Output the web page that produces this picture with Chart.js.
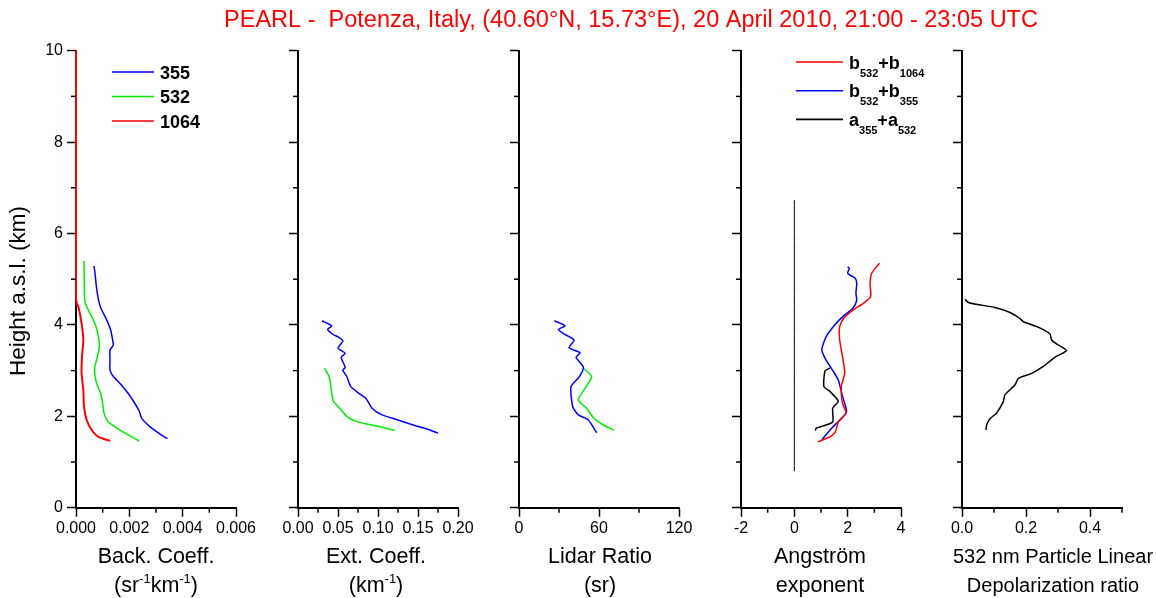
<!DOCTYPE html>
<html>
<head>
<meta charset="utf-8">
<title>PEARL - Potenza lidar profiles</title>
<script src="https://cdn.jsdelivr.net/npm/chart.js@4.4.1/dist/chart.umd.min.js"></script>
<style>
  html, body { margin: 0; padding: 0; background: #fff; }
  #wrap { position: relative; width: 1156px; height: 598px; overflow: hidden; }
  #wrap canvas { position: absolute; left: 0; top: 0; }
</style>
</head>
<body>
<div id="wrap">
  <canvas id="p1" width="1156" height="598"></canvas>
  <canvas id="p2" width="1156" height="598"></canvas>
  <canvas id="p3" width="1156" height="598"></canvas>
  <canvas id="p4" width="1156" height="598"></canvas>
  <canvas id="p5" width="1156" height="598"></canvas>
</div>
<script>
// ---- data (height in km a.s.l.) ----
const HEIGHT_TICK_LABELS = ["0", "2", "4", "6", "8", "10"];

// backscatter coefficient (sr-1 km-1)
const BSC_TICK_LABELS = ["0.000", "0.002", "0.004", "0.006"];
const bsc355H = [5.29, 5.13, 4.91, 4.69, 4.47, 4.33, 4.11, 3.89, 3.67, 3.56, 3.45, 3.23, 3.01, 2.87, 2.72, 2.50, 2.28, 2.10, 1.96, 1.77, 1.59, 1.51];
const bsc355 = [0.000675, 0.000713, 0.00075, 0.0008, 0.000875, 0.00096, 0.00115, 0.0013, 0.001375, 0.0014, 0.001275, 0.001275, 0.001275, 0.0014, 0.00165, 0.00196, 0.00221, 0.00238, 0.00246, 0.00278, 0.00321, 0.00343];
const bsc532H = [5.40, 4.55, 4.40, 4.18, 3.96, 3.74, 3.52, 3.30, 3.09, 2.94, 2.72, 2.50, 2.28, 2.07, 1.88, 1.70, 1.55, 1.46];
const bsc532 = [0.0003, 0.000325, 0.0004, 0.00059, 0.00075, 0.00084, 0.000875, 0.0008, 0.00071, 0.0007, 0.000775, 0.000925, 0.001, 0.00105, 0.00121, 0.00165, 0.00209, 0.00236];
const bsc1064H = [10.0, 4.60, 4.47, 4.40, 4.03, 3.67, 3.30, 2.94, 2.58, 2.21, 1.92, 1.70, 1.55, 1.46];
const bsc1064 = [0, 0, 0.00003, 0.00009, 0.00021, 0.000275, 0.000225, 0.00021, 0.000275, 0.0003, 0.0004, 0.00059, 0.00084, 0.00128];

// extinction coefficient (km-1)
const EXT_TICK_LABELS = ["0.00", "0.05", "0.10", "0.15", "0.20"];
const ext355H = [4.09, 3.98, 3.90, 3.79, 3.74, 3.65, 3.49, 3.38, 3.29, 3.07, 3.01, 2.87, 2.65, 2.52, 2.39, 2.17, 2.03, 1.93, 1.81, 1.71, 1.63];
const ext355 = [0.030, 0.042, 0.037, 0.044, 0.050, 0.056, 0.050, 0.059, 0.054, 0.059, 0.056, 0.061, 0.066, 0.075, 0.085, 0.093, 0.105, 0.123, 0.144, 0.163, 0.175];
const ext532H = [3.05, 2.87, 2.34, 2.17, 2.00, 1.90, 1.83, 1.77, 1.69];
const ext532 = [0.033, 0.039, 0.044, 0.0525, 0.061, 0.071, 0.086, 0.1025, 0.121];

// lidar ratio (sr)
const LR_TICK_LABELS = ["0", "60", "120"];
const lr355H = [4.09, 3.98, 3.90, 3.81, 3.67, 3.50, 3.39, 3.29, 3.07, 2.87, 2.65, 2.21, 2.03, 1.92, 1.64];
const lr355 = [26.5, 34.5, 29.5, 33.3, 41.3, 37.5, 45.8, 42.8, 48.3, 45.3, 39.0, 40.3, 44.5, 52.0, 58.3];
const lr532H = [3.05, 2.87, 2.61, 2.36, 2.17, 1.97, 1.81, 1.70];
const lr532 = [48.3, 54.5, 49.5, 44.5, 50.8, 55.8, 63.3, 71.3];

// Angstrom exponents
const ANG_TICK_LABELS = ["-2", "0", "2", "4"];
const angB1064H = [5.35, 5.13, 4.91, 4.62, 4.47, 4.33, 4.14, 3.96, 3.67, 3.30, 2.94, 2.65, 2.28, 2.07, 1.88, 1.66, 1.55, 1.49, 1.44];
const angB1064 = [3.19, 2.90, 2.84, 2.86, 2.59, 2.21, 1.84, 1.70, 1.70, 1.81, 1.89, 1.76, 1.81, 1.94, 1.65, 1.54, 1.34, 1.09, 0.88];
const angB355H = [5.27, 5.24, 5.13, 5.02, 4.91, 4.69, 4.54, 4.36, 4.22, 4.03, 3.74, 3.45, 3.23, 3.04, 2.79, 2.43, 2.10, 1.92, 1.74, 1.57, 1.48];
const angB355 = [2.00, 2.06, 2.00, 2.28, 2.34, 2.31, 2.34, 2.19, 1.89, 1.56, 1.19, 1.03, 1.19, 1.40, 1.65, 1.81, 1.96, 1.71, 1.40, 1.15, 1.03];
const angAH = [3.06, 2.99, 2.65, 2.54, 2.33, 2.18, 1.88, 1.79, 1.74, 1.69];
const angA = [1.34, 1.15, 1.11, 1.34, 1.65, 1.44, 1.44, 1.09, 0.82, 0.79];
const angZeroH = [6.73, 0.80];
const angZero = [0, 0];

// particle linear depolarization ratio at 532 nm
const DEP_TICK_LABELS = ["0.0", "0.2", "0.4"];
const depH = [4.56, 4.49, 4.45, 4.38, 4.27, 4.14, 4.07, 3.95, 3.80, 3.67, 3.56, 3.44, 3.29, 3.09, 2.94, 2.83, 2.69, 2.47, 2.32, 2.07, 1.95, 1.81, 1.70];
const dep = [0.009, 0.020, 0.046, 0.103, 0.150, 0.181, 0.192, 0.238, 0.275, 0.280, 0.301, 0.327, 0.290, 0.254, 0.218, 0.176, 0.166, 0.134, 0.129, 0.108, 0.088, 0.077, 0.075];

// ---- layout ----
const W = 1156, H = 598;
const TOP = 50.7, AXIS_BOTTOM = 507.7, PANEL_W = 160;
const MAJOR_LEN = 9, MINOR_LEN = 5;
const FONT = "'Liberation Sans', Arial, Helvetica, sans-serif";
const TITLE_BASE = [563, 592];

Chart.defaults.font.family = FONT;
Chart.defaults.color = "#000";

function isMajor(labels, v) {
  return labels.some(l => Math.abs(parseFloat(l) - v) < 1e-9);
}
function labelFor(labels, v) {
  const l = labels.find(l => Math.abs(parseFloat(l) - v) < 1e-9);
  return l === undefined ? "" : l;
}

// text with _{sub} and ^{sup} parts
function richParts(str) {
  const parts = [];
  const re = /([_^])\{([^}]*)\}/g;
  let last = 0, m;
  while ((m = re.exec(str))) {
    if (m.index > last) parts.push({ t: str.slice(last, m.index), mode: 0 });
    parts.push({ t: m[2], mode: m[1] === "_" ? 1 : -1 });
    last = re.lastIndex;
  }
  if (last < str.length) parts.push({ t: str.slice(last), mode: 0 });
  return parts;
}
function drawRich(ctx, str, x, y, size, weight, align) {
  const parts = richParts(str);
  const small = Math.round(size * 0.6);
  const fontFor = p => `${weight} ${p.mode ? small : size}px ${FONT}`;
  let w = 0;
  parts.forEach(p => { ctx.font = fontFor(p); p.w = ctx.measureText(p.t).width; w += p.w; });
  let cx = align === "center" ? x - w / 2 : x;
  ctx.textAlign = "left";
  ctx.textBaseline = "alphabetic";
  parts.forEach(p => {
    ctx.font = fontFor(p);
    const dy = p.mode === 1 ? size * 0.45 : p.mode === -1 ? -size * 0.42 : 0;
    ctx.fillText(p.t, cx, y + dy);
    cx += p.w;
  });
}

const panelDeco = {
  id: "panelDeco",
  afterDraw(chart, args, o) {
    const ctx = chart.ctx;
    const xs = chart.scales.x, ys = chart.scales.y;
    ctx.save();

    // minor ticks, shorter than the major ones
    ctx.strokeStyle = "#000";
    ctx.lineWidth = 1.5;
    xs.ticks.forEach(t => {
      if (isMajor(o.xLabels, t.value)) return;
      const p = xs.getPixelForValue(t.value);
      ctx.beginPath(); ctx.moveTo(p, xs.top); ctx.lineTo(p, xs.top + MINOR_LEN); ctx.stroke();
    });
    ys.ticks.forEach(t => {
      if (isMajor(HEIGHT_TICK_LABELS, t.value)) return;
      const p = ys.getPixelForValue(t.value);
      ctx.beginPath(); ctx.moveTo(ys.right, p); ctx.lineTo(ys.right - MINOR_LEN, p); ctx.stroke();
    });

    // legend
    if (o.legend) {
      let y = o.legend.y;
      chart.data.datasets.forEach(ds => {
        if (!ds.label) return;
        ctx.strokeStyle = ds.borderColor;
        ctx.lineWidth = 1.6;
        ctx.beginPath(); ctx.moveTo(o.legend.x, y); ctx.lineTo(o.legend.x + o.legend.len, y); ctx.stroke();
        ctx.fillStyle = "#000";
        drawRich(ctx, ds.label, o.legend.x + o.legend.len + 6, y + 6.5, 18, "bold", "left");
        y += o.legend.dy;
      });
    }

    // x axis title
    ctx.fillStyle = "#000";
    o.xTitle.forEach((line, i) => drawRich(ctx, line, o.titleX, TITLE_BASE[i], o.titleSize || 21.5, "normal", "center"));

    if (o.main) {
      ctx.fillStyle = "#ff0000";
      drawRich(ctx, "PEARL -  Potenza, Italy, (40.60°N, 15.73°E), 20 April 2010, 21:00 - 23:05 UTC", 631, 27, 23.5, "normal", "center");
      ctx.save();
      ctx.translate(19, 291);
      ctx.rotate(-Math.PI / 2);
      ctx.fillStyle = "#000";
      ctx.font = `22.5px ${FONT}`;
      ctx.textAlign = "center";
      ctx.textBaseline = "middle";
      ctx.fillText("Height a.s.l. (km)", 0, 0);
      ctx.restore();
    }
    ctx.restore();
  }
};

function series(label, xs, hs, color, width) {
  return {
    label: label,
    data: xs.map((v, i) => ({ x: v, y: hs[i] })),
    borderColor: color,
    borderWidth: width || 1.5,
    pointRadius: 0,
    tension: 0.2,
    fill: false,
    clip: false
  };
}

function makePanel(id, cfg) {
  const yw = cfg.first ? 76 : 20;
  return new Chart(document.getElementById(id), {
    type: "line",
    data: { datasets: cfg.datasets },
    options: {
      responsive: false,
      animation: false,
      events: [],
      layout: { padding: { left: cfg.left - yw, right: W - (cfg.left + PANEL_W), top: TOP, bottom: 0 } },
      plugins: {
        legend: { display: false },
        tooltip: { enabled: false },
        panelDeco: { xLabels: cfg.xLabels, xTitle: cfg.xTitle, titleX: cfg.titleX, titleSize: cfg.titleSize, legend: cfg.legend, main: cfg.first }
      },
      scales: {
        x: {
          type: "linear",
          min: cfg.min,
          max: cfg.max,
          afterFit: s => { s.height = H - AXIS_BOTTOM; },
          ticks: {
            stepSize: cfg.step,
            autoSkip: false,
            maxRotation: 0,
            padding: 2,
            font: { size: 16 },
            color: "#000",
            callback: v => labelFor(cfg.xLabels, v)
          },
          grid: {
            drawOnChartArea: false,
            tickLength: MAJOR_LEN,
            tickWidth: 1.5,
            tickColor: c => isMajor(cfg.xLabels, c.tick.value) ? "#000" : "rgba(0,0,0,0)"
          },
          border: { color: "#000", width: 2 }
        },
        y: {
          type: "linear",
          min: 0,
          max: 10,
          afterFit: s => { s.width = yw; },
          ticks: {
            stepSize: 1,
            autoSkip: false,
            padding: 4,
            font: { size: 16 },
            color: "#000",
            callback: v => cfg.first ? labelFor(HEIGHT_TICK_LABELS, v) : ""
          },
          grid: {
            drawOnChartArea: false,
            tickLength: MAJOR_LEN,
            tickWidth: 1.5,
            tickColor: c => isMajor(HEIGHT_TICK_LABELS, c.tick.value) ? "#000" : "rgba(0,0,0,0)"
          },
          border: { color: "#000", width: 2 }
        }
      }
    },
    plugins: [panelDeco]
  });
}

makePanel("p1", {
  first: true, left: 76, min: 0, max: 0.006, step: 0.001, xLabels: BSC_TICK_LABELS,
  xTitle: ["Back. Coeff.", "(sr^{-1}km^{-1})"], titleX: 156,
  legend: { x: 112, y: 72, dy: 24.5, len: 42 },
  datasets: [
    series("355", bsc355, bsc355H, "#0000ff"),
    series("532", bsc532, bsc532H, "#00ee00"),
    series("1064", bsc1064, bsc1064H, "#ff0000", 2)
  ]
});

makePanel("p2", {
  left: 298, min: 0, max: 0.2, step: 0.025, xLabels: EXT_TICK_LABELS,
  xTitle: ["Ext. Coeff.", "(km^{-1})"], titleX: 376,
  datasets: [
    series("", ext355, ext355H, "#0000ff"),
    series("", ext532, ext532H, "#00ee00")
  ]
});

makePanel("p3", {
  left: 519, min: 0, max: 120, step: 30, xLabels: LR_TICK_LABELS,
  xTitle: ["Lidar Ratio", "(sr)"], titleX: 600,
  datasets: [
    series("", lr355, lr355H, "#0000ff"),
    series("", lr532, lr532H, "#00ee00")
  ]
});

makePanel("p4", {
  left: 741, min: -2, max: 4, step: 1, xLabels: ANG_TICK_LABELS,
  xTitle: ["Angström", "exponent"], titleX: 820,
  legend: { x: 796, y: 62, dy: 28.7, len: 47 },
  datasets: [
    series("b_{532}+b_{1064}", angB1064, angB1064H, "#ff0000"),
    series("b_{532}+b_{355}", angB355, angB355H, "#0000ff"),
    series("a_{355}+a_{532}", angA, angAH, "#000000"),
    series("", angZero, angZeroH, "#000000", 1)
  ]
});

makePanel("p5", {
  left: 962, min: 0, max: 0.5, step: 0.1, xLabels: DEP_TICK_LABELS,
  xTitle: ["532 nm Particle Linear", "Depolarization ratio"], titleX: 1053, titleSize: 20,
  datasets: [
    series("", dep, depH, "#000000")
  ]
});
</script>
</body>
</html>
